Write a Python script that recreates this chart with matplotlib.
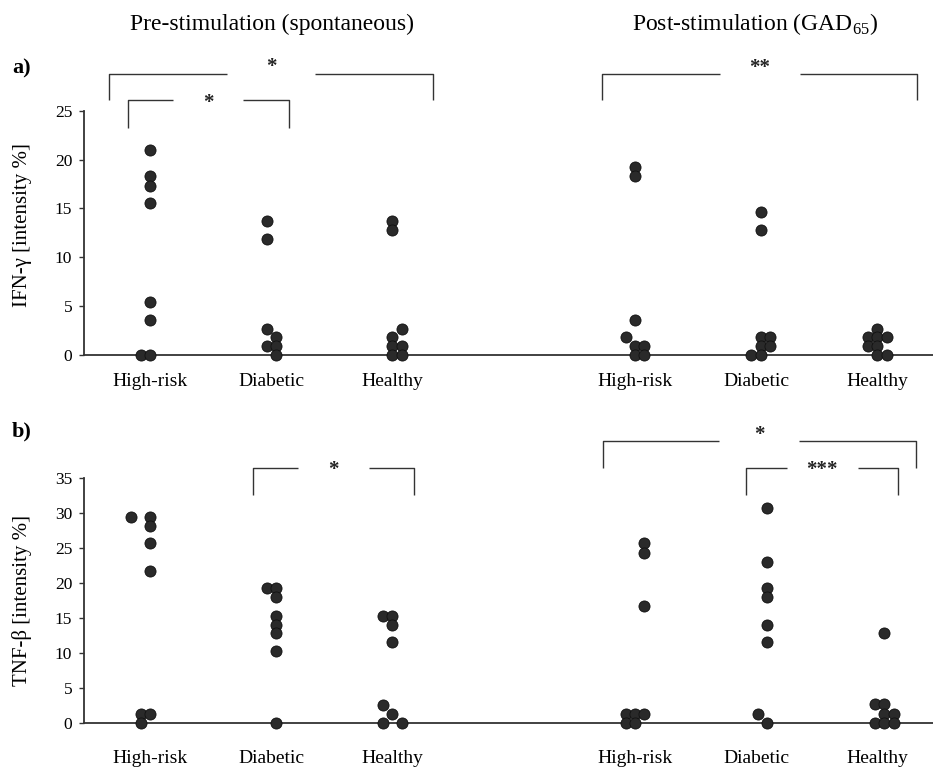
import numpy as np
import matplotlib
matplotlib.use("Agg")
import matplotlib.pyplot as plt

plt.rcParams['font.family'] = ['Liberation Serif', 'DejaVu Serif']
plt.rcParams['mathtext.fontset'] = 'custom'
plt.rcParams['mathtext.rm'] = 'Liberation Serif'

groups = ["High-risk", "Diabetic", "Healthy"]

# IFN-gamma, values and swarm column (in dot widths) per point
ifn_pre_hr = [21.0, 18.3, 17.3, 15.5, 5.4, 3.6, 0, 0]
ifn_pre_hr_col = [0, 0, 0, 0, 0, 0, -1, 0]
ifn_pre_db = [13.7, 11.9, 2.7, 1.8, 0.9, 0.9, 0]
ifn_pre_db_col = [-0.5, -0.5, -0.5, 0.5, -0.5, 0.5, 0.5]
ifn_pre_he = [13.7, 12.8, 2.7, 1.8, 0.9, 0.9, 0, 0]
ifn_pre_he_col = [0, 0, 1, 0, 0, 1, 0, 1]
ifn_post_hr = [19.2, 18.3, 3.6, 1.8, 0.9, 0.9, 0, 0]
ifn_post_hr_col = [0, 0, 0, -1, 0, 1, 0, 1]
ifn_post_db = [14.6, 12.8, 1.8, 1.8, 0.9, 0.9, 0, 0]
ifn_post_db_col = [0.5, 0.5, 0.5, 1.5, 0.5, 1.5, -0.5, 0.5]
ifn_post_he = [2.7, 1.8, 1.8, 1.8, 0.9, 0.9, 0, 0]
ifn_post_he_col = [0, -1, 0, 1, -1, 0, 0, 1]

# TNF-beta
tnf_pre_hr = [29.5, 29.5, 28.2, 25.7, 21.8, 1.3, 1.3, 0]
tnf_pre_hr_col = [-2, 0, 0, 0, 0, -1, 0, -1]
tnf_pre_db = [19.3, 19.3, 18.0, 15.4, 14.1, 12.9, 10.3, 0]
tnf_pre_db_col = [-0.5, 0.5, 0.5, 0.5, 0.5, 0.5, 0.5, 0.5]
tnf_pre_he = [15.4, 15.4, 14.1, 11.6, 2.6, 1.3, 0, 0]
tnf_pre_he_col = [-1, 0, 0, 0, -1, 0, -1, 1]
tnf_post_hr = [25.7, 24.4, 16.7, 1.4, 1.4, 1.4, 0, 0]
tnf_post_hr_col = [1, 1, 1, -1, 0, 1, -1, 0]
tnf_post_db = [30.8, 23.1, 19.3, 18.0, 14.1, 11.6, 1.4, 0]
tnf_post_db_col = [1.2, 1.2, 1.2, 1.2, 1.2, 1.2, 0.2, 1.2]
tnf_post_he = [12.9, 2.7, 2.7, 1.4, 1.4, 0, 0, 0]
tnf_post_he_col = [0.75, -0.25, 0.75, 0.75, 1.75, -0.25, 0.75, 1.75]

# significance labels of the brackets
ifn_stars = ["*", "*", "**"]
tnf_stars = ["*", "*", "***"]

positions = [1, 2, 3, 5, 6, 7]
slot = 0.077
dot_color = '#2a2a2a'
line_color = '#333333'


def draw_dots(ax, series):
    for pos, (vals, cols) in zip(positions, series):
        x = pos + np.array(cols) * slot
        ax.scatter(x, vals, s=64, color=dot_color, edgecolor='#111111',
                   linewidth=0.6, zorder=3, clip_on=False)


def bracket(ax, x0, x1, y_top, y_leg, label, half_gap, rise):
    mid = (x0 + x1) / 2
    kw = dict(color=line_color, lw=1.0, clip_on=False, solid_capstyle='butt')
    ax.plot([x0, x0, mid - half_gap], [y_leg, y_top, y_top], **kw)
    ax.plot([mid + half_gap, x1, x1], [y_top, y_top, y_leg], **kw)
    ax.annotate(label, (mid, y_top), xytext=(0, rise), textcoords='offset points',
                ha='center', va='center', fontsize=15, fontweight='bold',
                color='#222222', annotation_clip=False)


def style_axes(ax, ymax, ylabel, pad, label_y):
    ax.set_xlim(0.455, 7.46)
    ax.set_ylim(0, ymax)
    ax.set_yticks(np.arange(0, ymax + 1, 5))
    ax.set_xticks(positions, groups * 2)
    ax.tick_params(axis='x', length=0, pad=pad, labelsize=14)
    ax.tick_params(axis='y', length=3.5, width=1.0, pad=5, labelsize=12.5,
                   direction='out', color=line_color)
    for s in ['top', 'right']:
        ax.spines[s].set_visible(False)
    for s in ['left', 'bottom']:
        ax.spines[s].set_color(line_color)
        ax.spines[s].set_linewidth(1.3)
    ax.set_ylabel(ylabel, fontsize=15)
    ax.yaxis.set_label_coords(-0.061, label_y)


fig = plt.figure(figsize=(9.33, 7.69), dpi=100)
ax1 = fig.add_axes([0.0900, 0.5384, 0.9100, 0.3177])
ax2 = fig.add_axes([0.0900, 0.0594, 0.9100, 0.3186])

draw_dots(ax1, [(ifn_pre_hr, ifn_pre_hr_col), (ifn_pre_db, ifn_pre_db_col),
                (ifn_pre_he, ifn_pre_he_col), (ifn_post_hr, ifn_post_hr_col),
                (ifn_post_db, ifn_post_db_col), (ifn_post_he, ifn_post_he_col)])
draw_dots(ax2, [(tnf_pre_hr, tnf_pre_hr_col), (tnf_pre_db, tnf_pre_db_col),
                (tnf_pre_he, tnf_pre_he_col), (tnf_post_hr, tnf_post_hr_col),
                (tnf_post_db, tnf_post_db_col), (tnf_post_he, tnf_post_he_col)])

style_axes(ax1, 25, u'IFN-\u03b3 [intensity %]', 13, 0.53)
style_axes(ax2, 35, u'TNF-\u03b2 [intensity %]', 19, 0.5)

# brackets drawn above the axes
bracket(ax1, 0.663, 3.332, 28.76, 26.1, ifn_stars[0], 0.365, 5)
bracket(ax1, 0.815, 2.144, 26.1, 23.26, ifn_stars[1], 0.29, -2)
bracket(ax1, 4.732, 7.326, 28.76, 26.1, ifn_stars[2], 0.33, 4.5)
bracket(ax2, 1.847, 3.18, 36.43, 32.6, tnf_stars[0], 0.293, -1.5)
bracket(ax2, 4.735, 7.32, 40.29, 36.43, tnf_stars[1], 0.33, 4.5)
bracket(ax2, 5.915, 7.174, 36.43, 32.6, tnf_stars[2], 0.293, -1.5)

fig.text(271.7 / 933, 1 - 24 / 769, 'Pre-stimulation (spontaneous)',
         ha='center', va='center', fontsize=17)
fig.text(755 / 933, 1 - 24 / 769, r'Post-stimulation (GAD$_{65}$)',
         ha='center', va='center', fontsize=17)
fig.text(12 / 933, 1 - 68 / 769, 'a)', ha='left', va='center',
         fontsize=16, fontweight='bold')
fig.text(12 / 933, 1 - 431 / 769, 'b)', ha='left', va='center',
         fontsize=16, fontweight='bold')

fig.savefig('out.png', dpi=100)
